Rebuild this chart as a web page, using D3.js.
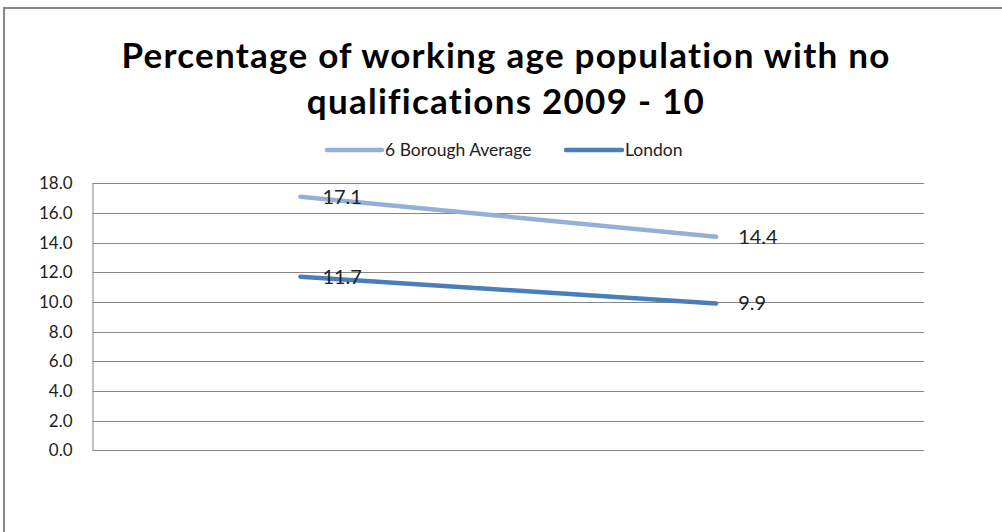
<!DOCTYPE html>
<html>
<head>
<meta charset="utf-8">
<script src="https://cdn.jsdelivr.net/npm/d3@7"></script>
<style>
  html, body { margin: 0; padding: 0; background: #fff; }
  svg { display: block; font-family: Lato, "Open Sans", sans-serif; }
</style>
</head>
<body>
<svg id="chart" width="1002" height="532"></svg>
<script>
// Chart data
const categories = ["2009", "2010"];
const boroughAverage = [17.1, 14.4];
const london = [11.7, 9.9];
const seriesNames = ["6 Borough Average", "London"];
const yTicks = [0, 2, 4, 6, 8, 10, 12, 14, 16, 18];
const titleLines = ["Percentage of working age population with no", "qualifications 2009 - 10"];

const colors = ["#93b1d6", "#4a7ebb"];

const svg = d3.select("#chart");

// Outer chart frame (runs off the right and bottom edges)
svg.append("rect")
  .attr("x", 4).attr("y", 8)
  .attr("width", 1100).attr("height", 600)
  .attr("fill", "#fff")
  .attr("stroke", "#878787")
  .attr("stroke-width", 2);

// Title
svg.append("g").selectAll("text")
  .data(titleLines)
  .join("text")
  .attr("x", 506)
  .attr("y", (d, i) => 68 + i * 46)
  .attr("text-anchor", "middle")
  .attr("font-weight", "bold")
  .attr("font-size", 35)
  .attr("letter-spacing", 1.25)
  .attr("fill", "#000")
  .text(d => d);

// Plot area
const plot = { left: 92.5, right: 924, top: 183.3, bottom: 450.3 };

const x = d3.scalePoint()
  .domain(categories)
  .range([plot.left, plot.right])
  .padding(0.5);

const y = d3.scaleLinear()
  .domain([0, 18])
  .range([plot.bottom, plot.top]);

// Horizontal gridlines
svg.append("g").selectAll("line")
  .data(yTicks)
  .join("line")
  .attr("x1", plot.left).attr("x2", plot.right)
  .attr("y1", d => Math.round(y(d)) + 0.5)
  .attr("y2", d => Math.round(y(d)) + 0.5)
  .attr("stroke", "#878787")
  .attr("stroke-width", 1);

// Y axis
const yAxis = d3.axisLeft(y)
  .tickValues(yTicks)
  .tickFormat(d3.format(".1f"))
  .tickSize(0)
  .tickPadding(20);

const yG = svg.append("g")
  .attr("transform", `translate(${plot.left},0)`)
  .call(yAxis);
yG.select(".domain")
  .attr("stroke", "#878787")
  .attr("d", `M0.5,${plot.top}V${Math.round(plot.bottom) + 0.5}`);
yG.selectAll("text")
  .attr("font-family", "Lato, 'Open Sans', sans-serif")
  .attr("font-size", 17)
  .attr("fill", "#222");

// Series lines
const series = [boroughAverage, london];
const line = d3.line()
  .x((d, i) => x(categories[i]))
  .y(d => y(d));

svg.append("g").selectAll("path")
  .data(series)
  .join("path")
  .attr("d", d => line(d))
  .attr("fill", "none")
  .attr("stroke", (d, i) => colors[i])
  .attr("stroke-width", 4.5)
  .attr("stroke-linecap", "round");

// Data labels to the right of each point
series.forEach((vals, si) => {
  svg.append("g").selectAll("text")
    .data(vals)
    .join("text")
    .attr("x", (d, i) => x(categories[i]) + 22)
    .attr("y", d => y(d))
    .attr("dy", "0.35em")
    .attr("font-size", 20)
    .attr("fill", "#222")
    .text(d => d3.format(".1f")(d));
});

// Legend
const legendItems = [
  { name: seriesNames[0], color: colors[0], x1: 327, x2: 382 },
  { name: seriesNames[1], color: colors[1], x1: 566, x2: 622 }
];
const lg = svg.append("g");
legendItems.forEach(item => {
  lg.append("line")
    .attr("x1", item.x1).attr("x2", item.x2)
    .attr("y1", 150).attr("y2", 150)
    .attr("stroke", item.color)
    .attr("stroke-width", 4.5)
    .attr("stroke-linecap", "round");
  lg.append("text")
    .attr("x", item.x2 + 3)
    .attr("y", 150)
    .attr("dy", "0.35em")
    .attr("font-size", 17.5)
    .attr("fill", "#222")
    .text(item.name);
});
</script>
</body>
</html>
